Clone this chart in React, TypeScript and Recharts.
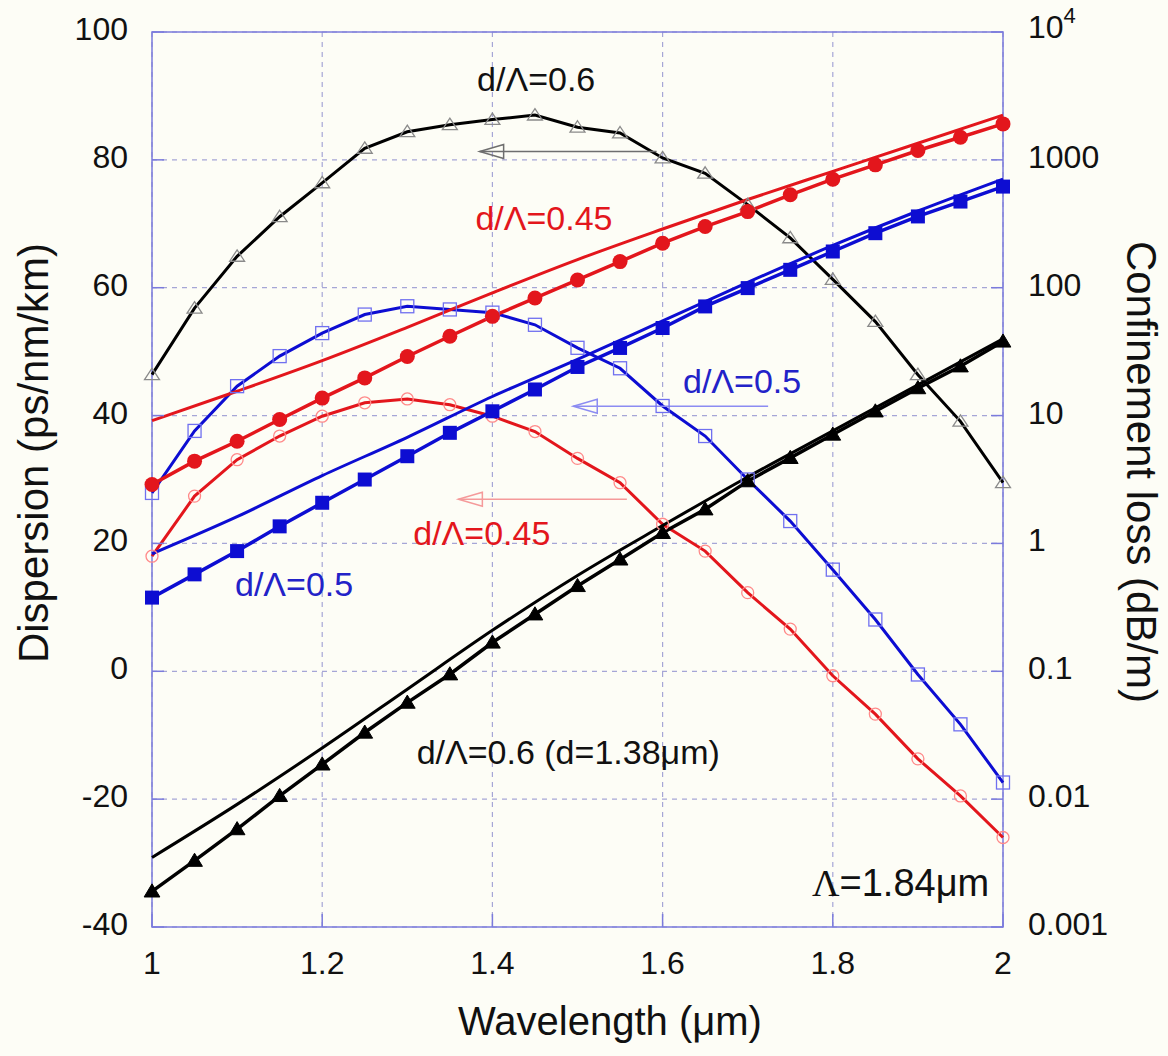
import React from "react";
import {
  ComposedChart,
  Line,
  XAxis,
  YAxis,
  CartesianGrid,
  ReferenceArea,
  ReferenceLine,
  ReferenceDot,
} from "recharts";

// ---------------- data ----------------
const wavelengths = [
  1.0, 1.05, 1.1, 1.15, 1.2, 1.25, 1.3, 1.35, 1.4, 1.45, 1.5, 1.55, 1.6, 1.65,
  1.7, 1.75, 1.8, 1.85, 1.9, 1.95, 2.0,
];
const fitWavelengths = [1.0, 1.1, 1.2, 1.3, 1.4, 1.5, 1.6, 1.7, 1.8, 1.9, 2.0];

// Dispersion (ps/nm/km) – left axis, open markers
const dispersion06 = [
  46.4, 56.8, 64.9, 71.1, 76.4, 81.8, 84.4, 85.5, 86.3, 87.0, 85.1, 84.2, 80.3,
  77.9, 73.0, 67.8, 61.3, 54.7, 46.4, 39.1, 29.5,
];
const dispersion05 = [
  27.9, 37.6, 44.6, 49.3, 52.9, 55.8, 57.1, 56.6, 56.1, 54.2, 50.6, 47.4, 41.5,
  36.8, 30.0, 23.5, 15.9, 8.1, -0.5, -8.3, -17.4,
];
const dispersion045 = [
  18.0, 27.4, 33.1, 36.8, 39.9, 42.0, 42.6, 41.7, 39.9, 37.5, 33.3, 29.5, 23.0,
  18.8, 12.3, 6.6, -0.7, -6.7, -13.7, -19.5, -26.0,
];

// Confinement loss (dB/m) – right log axis, filled markers
const loss045 = [
  2.89, 4.4, 6.3, 9.31, 13.7, 19.7, 29.0, 41.7, 59.7, 83.0, 115, 160, 223, 301,
  394, 533, 706, 914, 1183, 1503, 1910,
];
const loss05 = [
  0.377, 0.573, 0.871, 1.36, 2.08, 3.16, 4.81, 7.33, 10.8, 16.0, 24.0, 33.8,
  48.4, 71.4, 99.3, 138, 192, 267, 361, 472, 618,
];
const loss06 = [
  0.0019, 0.0033, 0.00583, 0.0106, 0.0187, 0.0332, 0.0569, 0.0948, 0.168,
  0.279, 0.465, 0.75, 1.21, 1.85, 3.07, 4.67, 7.11, 10.8, 16.4, 24.3, 38.0,
];

// Confinement loss – plain curves without markers
const lossFit045 = [9.12, 15.5, 26.9, 49.0, 91.2, 166, 288, 490, 813, 1349, 2239];
const lossFit05 = [0.83, 1.62, 3.39, 6.76, 14.1, 27.5, 55.0, 110, 214, 398, 708];
const lossFit06 = [
  0.0035, 0.0091, 0.0251, 0.0724, 0.209, 0.562, 1.38, 3.31, 7.59, 17.4, 39.8,
];

const xTicks = [1, 1.2, 1.4, 1.6, 1.8, 2];
const leftTicks = [-40, -20, 0, 20, 40, 60, 80, 100];
const rightTicks = [0.001, 0.01, 0.1, 1, 10, 100, 1000, 10000];

// ---------------- styles ----------------
const FONT = "'Liberation Sans', Arial, Helvetica, sans-serif";
const SERIF = "'Liberation Serif', 'Times New Roman', serif";
const RED = "#e3161c";
const BLUE = "#0d0dd2";
const BLACK = "#000000";
const AXIS = "#7b7bdc";
const GRID = "#a6a6d6";
const TEXT = "#111111";

const toPoints = (xs: number[], ys: number[]) =>
  xs.map((x, i) => ({ x, y: ys[i] }));

// ---------------- markers ----------------
const openTriangle = (color: string) => (p: any) => {
  const { cx, cy, index } = p;
  if (cx == null || cy == null) return <g key={index} />;
  const s = 6.5;
  return (
    <path
      key={index}
      d={`M${cx},${cy - s} L${cx + s * 1.15},${cy + s * 0.75} L${cx - s * 1.15},${cy + s * 0.75} Z`}
      fill="none"
      stroke={color}
      strokeWidth={1.3}
    />
  );
};
const openSquare = (color: string) => (p: any) => {
  const { cx, cy, index } = p;
  if (cx == null || cy == null) return <g key={index} />;
  const s = 6.5;
  return (
    <rect
      key={index}
      x={cx - s}
      y={cy - s}
      width={2 * s}
      height={2 * s}
      fill="none"
      stroke={color}
      strokeWidth={1.3}
    />
  );
};
const openCircle = (color: string) => (p: any) => {
  const { cx, cy, index } = p;
  if (cx == null || cy == null) return <g key={index} />;
  return (
    <circle key={index} cx={cx} cy={cy} r={6} fill="none" stroke={color} strokeWidth={1.3} />
  );
};
const filledTriangle = (color: string) => (p: any) => {
  const { cx, cy, index } = p;
  if (cx == null || cy == null) return <g key={index} />;
  const s = 7.5;
  return (
    <path
      key={index}
      d={`M${cx},${cy - s} L${cx + s * 1.05},${cy + s * 0.75} L${cx - s * 1.05},${cy + s * 0.75} Z`}
      fill={color}
      stroke={color}
      strokeWidth={1}
    />
  );
};
const filledSquare = (color: string) => (p: any) => {
  const { cx, cy, index } = p;
  if (cx == null || cy == null) return <g key={index} />;
  const s = 7;
  return <rect key={index} x={cx - s} y={cy - s} width={2 * s} height={2 * s} fill={color} />;
};
const filledCircle = (color: string) => (p: any) => {
  const { cx, cy, index } = p;
  if (cx == null || cy == null) return <g key={index} />;
  return <circle key={index} cx={cx} cy={cy} r={7.5} fill={color} />;
};

// ---------------- ticks ----------------
const LeftTick = (props: any) => {
  const { x, y, payload } = props;
  return (
    <g>
      <line x1={x} y1={y} x2={x + 12} y2={y} stroke={AXIS} strokeWidth={1.5} />
      <text x={x - 24} y={y + 8} textAnchor="end" fontSize={32} fontFamily={FONT} fill={TEXT}>
        {payload.value}
      </text>
    </g>
  );
};
const RightTick = (props: any) => {
  const { x, y, payload } = props;
  const v = payload.value;
  return (
    <g>
      <line x1={x - 12} y1={y} x2={x} y2={y} stroke={AXIS} strokeWidth={1.5} />
      {v === 10000 ? (
        <text x={x + 25} y={y + 6} textAnchor="start" fontSize={32} fontFamily={FONT} fill={TEXT}>
          10
          <tspan dy={-15} fontSize={22}>
            4
          </tspan>
        </text>
      ) : (
        <text x={x + 25} y={y + 8} textAnchor="start" fontSize={32} fontFamily={FONT} fill={TEXT}>
          {String(v)}
        </text>
      )}
    </g>
  );
};
const BottomTick = (props: any) => {
  const { x, y, payload } = props;
  const label = String(Number(Number(payload.value).toFixed(1)));
  return (
    <g>
      <line x1={x} y1={y - 13} x2={x} y2={y} stroke={AXIS} strokeWidth={1.5} />
      <text x={x} y={y + 47} textAnchor="middle" fontSize={32} fontFamily={FONT} fill={TEXT}>
        {label}
      </text>
    </g>
  );
};

// ---------------- titles ----------------
const Titles = () => (
  <g>
    <text x={610} y={1035} textAnchor="middle" fontSize={40} fontFamily={FONT} fill={TEXT}>
      Wavelength (μm)
    </text>
    <text
      x={48}
      y={453}
      transform="rotate(-90 48 453)"
      textAnchor="middle"
      fontSize={42}
      fontFamily={FONT}
      fill={TEXT}
    >
      Dispersion (ps/nm/km)
    </text>
    <text
      x={1127}
      y={472}
      transform="rotate(90 1127 472)"
      textAnchor="middle"
      fontSize={42}
      fontFamily={FONT}
      fill={TEXT}
    >
      Confinement loss (dB/m)
    </text>
  </g>
);

// ---------------- annotation helpers ----------------
const arrowShape = (color: string) => (props: any) => {
  const { x1, y1, x2, y2 } = props;
  if (x1 == null) return <g />;
  const dir = Math.sign(x2 - x1) || -1;
  const hl = 24;
  const hw = 7;
  const bx = x2 - dir * hl;
  return (
    <g>
      <line x1={x1} y1={y1} x2={x2} y2={y2} stroke={color} strokeWidth={1.5} />
      <path
        d={`M${bx},${y2 - hw} L${x2},${y2} L${bx},${y2 + hw} Z`}
        fill="none"
        stroke={color}
        strokeWidth={1.5}
      />
    </g>
  );
};

const textShape = (content: React.ReactNode, color: string, size = 34) => (props: any) => {
  const { cx, cy } = props;
  if (cx == null) return <g />;
  return (
    <text x={cx} y={cy} textAnchor="start" fontSize={size} fontFamily={FONT} fill={color}>
      {content}
    </text>
  );
};

export default function App() {
  const d06 = toPoints(wavelengths, dispersion06);
  const d05 = toPoints(wavelengths, dispersion05);
  const d045 = toPoints(wavelengths, dispersion045);
  const l045 = toPoints(wavelengths, loss045);
  const l05 = toPoints(wavelengths, loss05);
  const l06 = toPoints(wavelengths, loss06);
  const f045 = toPoints(fitWavelengths, lossFit045);
  const f05 = toPoints(fitWavelengths, lossFit05);
  const f06 = toPoints(fitWavelengths, lossFit06);

  return (
    <div
      style={{
        position: "absolute",
        left: 0,
        top: 0,
        width: 1168,
        height: 1056,
        background: "#fdfdf6",
      }}
    >
      <ComposedChart
        width={1168}
        height={1056}
        margin={{ top: 32, right: 85, bottom: 69, left: 72 }}
      >
        <XAxis
          dataKey="x"
          type="number"
          domain={[1, 2]}
          ticks={xTicks}
          interval={0}
          allowDecimals
          axisLine={false}
          tickLine={false}
          tickSize={0}
          tickMargin={0}
          height={60}
          tick={<BottomTick />}
          label={<Titles />}
        />
        <YAxis
          yAxisId="left"
          orientation="left"
          type="number"
          domain={[-40, 100]}
          ticks={leftTicks}
          interval={0}
          axisLine={false}
          tickLine={false}
          tickSize={0}
          tickMargin={0}
          width={80}
          tick={<LeftTick />}
        />
        <YAxis
          yAxisId="right"
          orientation="right"
          type="number"
          scale="log"
          domain={[0.001, 10000]}
          allowDataOverflow
          ticks={rightTicks}
          interval={0}
          axisLine={false}
          tickLine={false}
          tickSize={0}
          tickMargin={0}
          width={80}
          tick={<RightTick />}
        />
        <CartesianGrid
          yAxisId="left"
          stroke={GRID}
          strokeDasharray="5 5"
          strokeWidth={1.2}
        />
        <ReferenceArea
          yAxisId="left"
          x1={1}
          x2={2}
          y1={-40}
          y2={100}
          fill="none"
          fillOpacity={0}
          stroke={AXIS}
          strokeWidth={1.5}
          strokeOpacity={1}
        />

        {/* dispersion curves */}
        <Line
          yAxisId="left"
          data={d06}
          dataKey="y"
          type="linear"
          stroke={BLACK}
          strokeWidth={3}
          dot={openTriangle("#8a8a8a")}
          activeDot={false}
          isAnimationActive={false}
        />
        <Line
          yAxisId="left"
          data={d05}
          dataKey="y"
          type="linear"
          stroke={BLUE}
          strokeWidth={3}
          dot={openSquare("#7070f0")}
          activeDot={false}
          isAnimationActive={false}
        />
        <Line
          yAxisId="left"
          data={d045}
          dataKey="y"
          type="linear"
          stroke={RED}
          strokeWidth={3}
          dot={openCircle("#ff8a8a")}
          activeDot={false}
          isAnimationActive={false}
        />

        {/* confinement loss plain curves */}
        <Line
          yAxisId="right"
          data={f045}
          dataKey="y"
          type="monotone"
          stroke={RED}
          strokeWidth={3}
          dot={false}
          activeDot={false}
          isAnimationActive={false}
        />
        <Line
          yAxisId="right"
          data={f05}
          dataKey="y"
          type="monotone"
          stroke={BLUE}
          strokeWidth={3}
          dot={false}
          activeDot={false}
          isAnimationActive={false}
        />
        <Line
          yAxisId="right"
          data={f06}
          dataKey="y"
          type="monotone"
          stroke={BLACK}
          strokeWidth={3}
          dot={false}
          activeDot={false}
          isAnimationActive={false}
        />

        {/* confinement loss with markers */}
        <Line
          yAxisId="right"
          data={l045}
          dataKey="y"
          type="linear"
          stroke={RED}
          strokeWidth={3.5}
          dot={filledCircle(RED)}
          activeDot={false}
          isAnimationActive={false}
        />
        <Line
          yAxisId="right"
          data={l05}
          dataKey="y"
          type="linear"
          stroke={BLUE}
          strokeWidth={3.5}
          dot={filledSquare(BLUE)}
          activeDot={false}
          isAnimationActive={false}
        />
        <Line
          yAxisId="right"
          data={l06}
          dataKey="y"
          type="linear"
          stroke={BLACK}
          strokeWidth={3.5}
          dot={filledTriangle(BLACK)}
          activeDot={false}
          isAnimationActive={false}
        />

        {/* arrows pointing to the dispersion axis */}
        <ReferenceLine
          yAxisId="left"
          segment={[
            { x: 1.593, y: 81.3 },
            { x: 1.385, y: 81.3 },
          ]}
          ifOverflow="visible"
          shape={arrowShape("#6e6e6e")}
        />
        <ReferenceLine
          yAxisId="left"
          segment={[
            { x: 1.724, y: 41.45 },
            { x: 1.495, y: 41.45 },
          ]}
          ifOverflow="visible"
          shape={arrowShape("#8c8cf2")}
        />
        <ReferenceLine
          yAxisId="left"
          segment={[
            { x: 1.558, y: 26.9 },
            { x: 1.36, y: 26.9 },
          ]}
          ifOverflow="visible"
          shape={arrowShape("#f59a9a")}
        />

        {/* text annotations */}
        <ReferenceDot
          yAxisId="left"
          x={1.382}
          y={90.7}
          r={0}
          ifOverflow="visible"
          shape={textShape("d/Λ=0.6", TEXT)}
        />
        <ReferenceDot
          yAxisId="left"
          x={1.38}
          y={69.1}
          r={0}
          ifOverflow="visible"
          shape={textShape("d/Λ=0.45", RED)}
        />
        <ReferenceDot
          yAxisId="left"
          x={1.624}
          y={43.6}
          r={0}
          ifOverflow="visible"
          shape={textShape("d/Λ=0.5", "#2222c8")}
        />
        <ReferenceDot
          yAxisId="left"
          x={1.307}
          y={19.8}
          r={0}
          ifOverflow="visible"
          shape={textShape("d/Λ=0.45", RED)}
        />
        <ReferenceDot
          yAxisId="left"
          x={1.0975}
          y={11.7}
          r={0}
          ifOverflow="visible"
          shape={textShape("d/Λ=0.5", "#2222c8")}
        />
        <ReferenceDot
          yAxisId="left"
          x={1.311}
          y={-14.5}
          r={0}
          ifOverflow="visible"
          shape={textShape("d/Λ=0.6 (d=1.38μm)", TEXT)}
        />
        <ReferenceDot
          yAxisId="left"
          x={1.7755}
          y={-35.2}
          r={0}
          ifOverflow="visible"
          shape={textShape(
            <>
              <tspan fontFamily={SERIF}>Λ</tspan>=1.84μm
            </>,
            TEXT,
            38
          )}
        />
      </ComposedChart>
    </div>
  );
}
